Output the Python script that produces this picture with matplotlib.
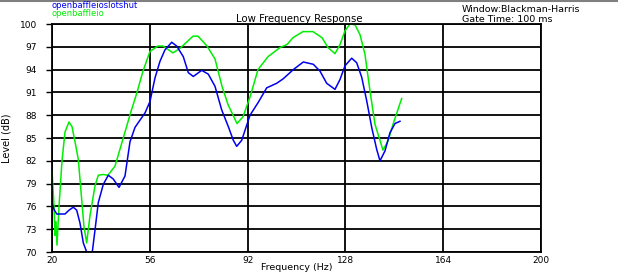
import matplotlib
matplotlib.use("Agg")
import matplotlib.pyplot as plt
from matplotlib.lines import Line2D

# openbaffleioslotshut (blue)
shut_hz = [20.00, 20.74, 21.73, 24.79, 26.26, 27.84, 29.09, 30.31, 31.52, 32.77,
           34.83, 35.83, 37.04, 38.88, 40.72, 42.56, 44.66, 46.87, 48.71, 50.55,
           54.23, 56.07, 57.91, 59.75, 61.59, 64.06, 65.90, 68.33, 70.17, 72.01,
           75.10, 77.53, 80.00, 82.46, 84.90, 86.74, 87.99, 89.83, 92.89, 95.94,
           99.03, 102.71, 105.14, 108.82, 112.50, 116.18, 118.65, 121.11, 124.17,
           126.01, 127.85, 130.32, 132.16, 134.00, 135.84, 137.68, 139.52, 140.73,
           142.57, 144.41, 146.25, 148.09]
shut_db = [76.5, 75.6, 75.0, 75.0, 75.5, 75.9, 75.5, 73.8, 71.2, 70.0,
           70.0, 72.9, 76.5, 78.9, 80.1, 79.6, 78.5, 80.0, 84.5, 86.4,
           88.3, 89.8, 92.9, 95.1, 96.6, 97.6, 97.1, 95.7, 93.6, 93.1,
           93.9, 93.4, 91.8, 88.7, 86.5, 84.7, 83.9, 84.7, 88.0, 89.7,
           91.6, 92.2, 92.8, 94.0, 95.0, 94.7, 93.8, 92.2, 91.4,
           92.7, 94.5, 95.5, 94.9, 93.0, 89.9, 86.4, 83.5, 82.0,
           83.3, 85.7, 86.9, 87.2]

# openbaffleio (green)
open_hz = [20.00, 20.74, 21.10, 21.47, 21.84, 22.58, 23.68, 24.79, 26.26, 27.36,
           28.47, 29.68, 30.93, 31.78, 32.77, 33.99, 35.83, 37.04, 38.77, 40.61,
           43.19, 46.24, 49.08, 51.29, 53.49, 56.07, 59.01, 60.86, 64.54, 67.12,
           71.90, 73.74, 77.06, 80.00, 82.58, 84.79, 88.10, 90.31, 92.89, 95.83,
           99.51, 103.93, 106.51, 108.71, 112.39, 116.07, 119.39, 121.60, 124.17,
           126.01, 127.85, 129.69, 131.53, 133.37, 135.21, 137.05, 138.89, 141.84,
           143.68, 145.52, 148.72]
open_db = [80.8, 76.0, 72.2, 74.0, 70.9, 76.0, 82.0, 85.8, 87.1, 86.5,
           84.5, 82.2, 76.9, 73.3, 71.2, 74.8, 78.7, 80.1, 80.2, 80.1,
           81.3, 85.0, 88.5, 91.0, 93.8, 96.4, 97.1, 97.1, 96.2, 96.8,
           98.4, 98.4, 97.1, 95.4, 91.8, 89.4, 86.9, 87.8, 90.4, 94.0,
           95.7, 96.9, 97.3, 98.2, 99.0, 99.0, 98.2, 96.9, 96.1,
           97.3, 99.1, 100.0, 99.9, 98.6, 96.0, 91.2, 86.8, 83.4,
           84.6, 86.8, 90.2]

xticks = [20, 56, 92, 128, 164, 200]
yticks = [70, 73, 76, 79, 82, 85, 88, 91, 94, 97, 100]

fig = plt.figure(figsize=(6.18, 2.74), dpi=100)
ax = fig.add_axes([52 / 618, 1 - 252 / 274, 489 / 618, 228 / 274])

ax.plot(open_hz, open_db, color="#00ee00", lw=1.1)
ax.plot(shut_hz, shut_db, color="#0000ee", lw=1.1)

ax.set_xlim(20, 200)
ax.set_ylim(70, 100)
ax.set_xticks(xticks)
ax.set_yticks(yticks)
ax.grid(True, color="black", lw=1.3)
ax.set_axisbelow(True)
for s in ax.spines.values():
    s.set_linewidth(1.3)
ax.tick_params(axis="y", length=4, width=1, pad=7, labelsize=6.5)
ax.tick_params(axis="x", length=0, pad=3, labelsize=6.5)
ax.set_xlabel("Frequency (Hz)", fontsize=6.8, labelpad=-1.5)
ax.set_ylabel("Level (dB)", fontsize=7, labelpad=6)

fig.text(0.5 * (52 + 541) / 618 + 0.005, 1 - 19 / 274, "Low Frequency Response",
         ha="center", va="center", fontsize=7.3)
fig.text(51 / 618, 1 - 5 / 274, "openbaffleioslotshut", color="#0000ee",
         ha="left", va="center", fontsize=6)
fig.text(51 / 618, 1 - 14 / 274, "openbaffleio", color="#00ee00",
         ha="left", va="center", fontsize=6)
fig.text(462 / 618, 1 - 10 / 274, "Window:Blackman-Harris",
         ha="left", va="center", fontsize=6.8)
fig.text(462 / 618, 1 - 19.5 / 274, "Gate Time: 100 ms",
         ha="left", va="center", fontsize=6.8)

fig.add_artist(Line2D([0, 1], [1 - 0.5 / 274, 1 - 0.5 / 274],
                      transform=fig.transFigure, color="#808080", lw=1.5))

fig.savefig("out.png", dpi=100)
